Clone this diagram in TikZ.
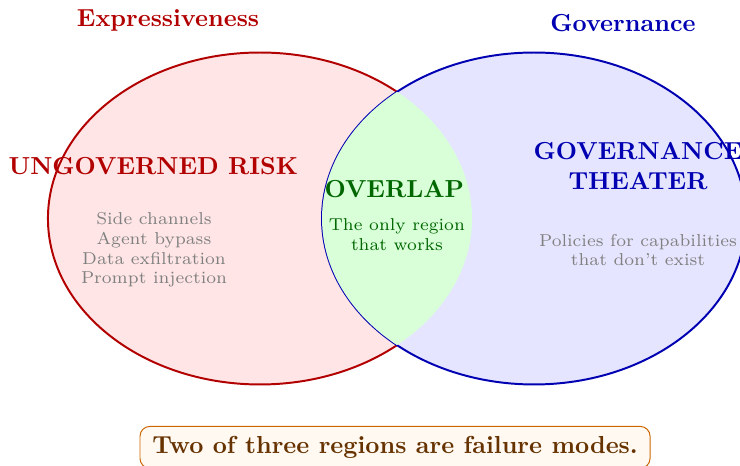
\documentclass[tikz,border=0pt]{standalone}
\usepackage{amsmath,amssymb,amsfonts}

\begin{document}
\begin{tikzpicture}[
		setlabel/.style = { font = \bfseries },
		region/.style = { font = \bfseries , align = center },
		detail/.style = { font = \scriptsize , text = gray , align = center },
		summary/.style = { draw = orange!80!black , fill = orange!5 , rounded corners = 4pt ,
			text = orange!40!black , font = \bfseries , inner xsep = 5pt , inner ysep = 4pt }
	]
	\useasboundingbox (0,0) rectangle (10.571,-6.643);
	\coordinate (expr) at (3.714,-3.121);
	\coordinate (gov) at (7.629,-3.121);
	% the two sets
	\fill[red!10] (expr) ellipse (3.029 and 2.371);
	\draw[thick, red!70!black] (expr) ellipse (3.029 and 2.371);
	\fill[blue!10] (gov) ellipse (3.029 and 2.371);
	\draw[thick, blue!70!black] (gov) ellipse (3.029 and 2.371);
	% the overlap
	\begin{scope}
		\clip (expr) ellipse (3.029 and 2.371);
		\fill[green!15] (gov) ellipse (3.029 and 2.371);
	\end{scope}
	% labels
	\node[setlabel, text = red!70!black] (exprlabel) at (2.4,-0.286) { Expressiveness };
	\node[setlabel, text = blue!70!black] (govlabel) at (8.9,-0.329) { Governance };
	\node[region, text = red!70!black] (risk) at (2.257,-2.371) { UNGOVERNED RISK };
	\node[detail] (riskitems) at (2.2,-3.57) { Side channels \\ Agent bypass \\ Data exfiltration \\ Prompt injection };
	\node[region, text = green!40!black] (overlap) at (5.7,-2.7) { OVERLAP };
	\node[detail, text = green!40!black] (overlapnote) at (5.67,-3.35) { The only region \\ that works };
	\node[region, text = blue!70!black] (theater) at (9.114,-2.371) { GOVERNANCE \\ THEATER };
	\node[detail] (theaternote) at (9.114,-3.57) { Policies for capabilities \\ that don't exist };
	\node[summary] (verdict) at (5.643,-6.39) { Two of three regions are failure modes. };
\end{tikzpicture}
\end{document}
